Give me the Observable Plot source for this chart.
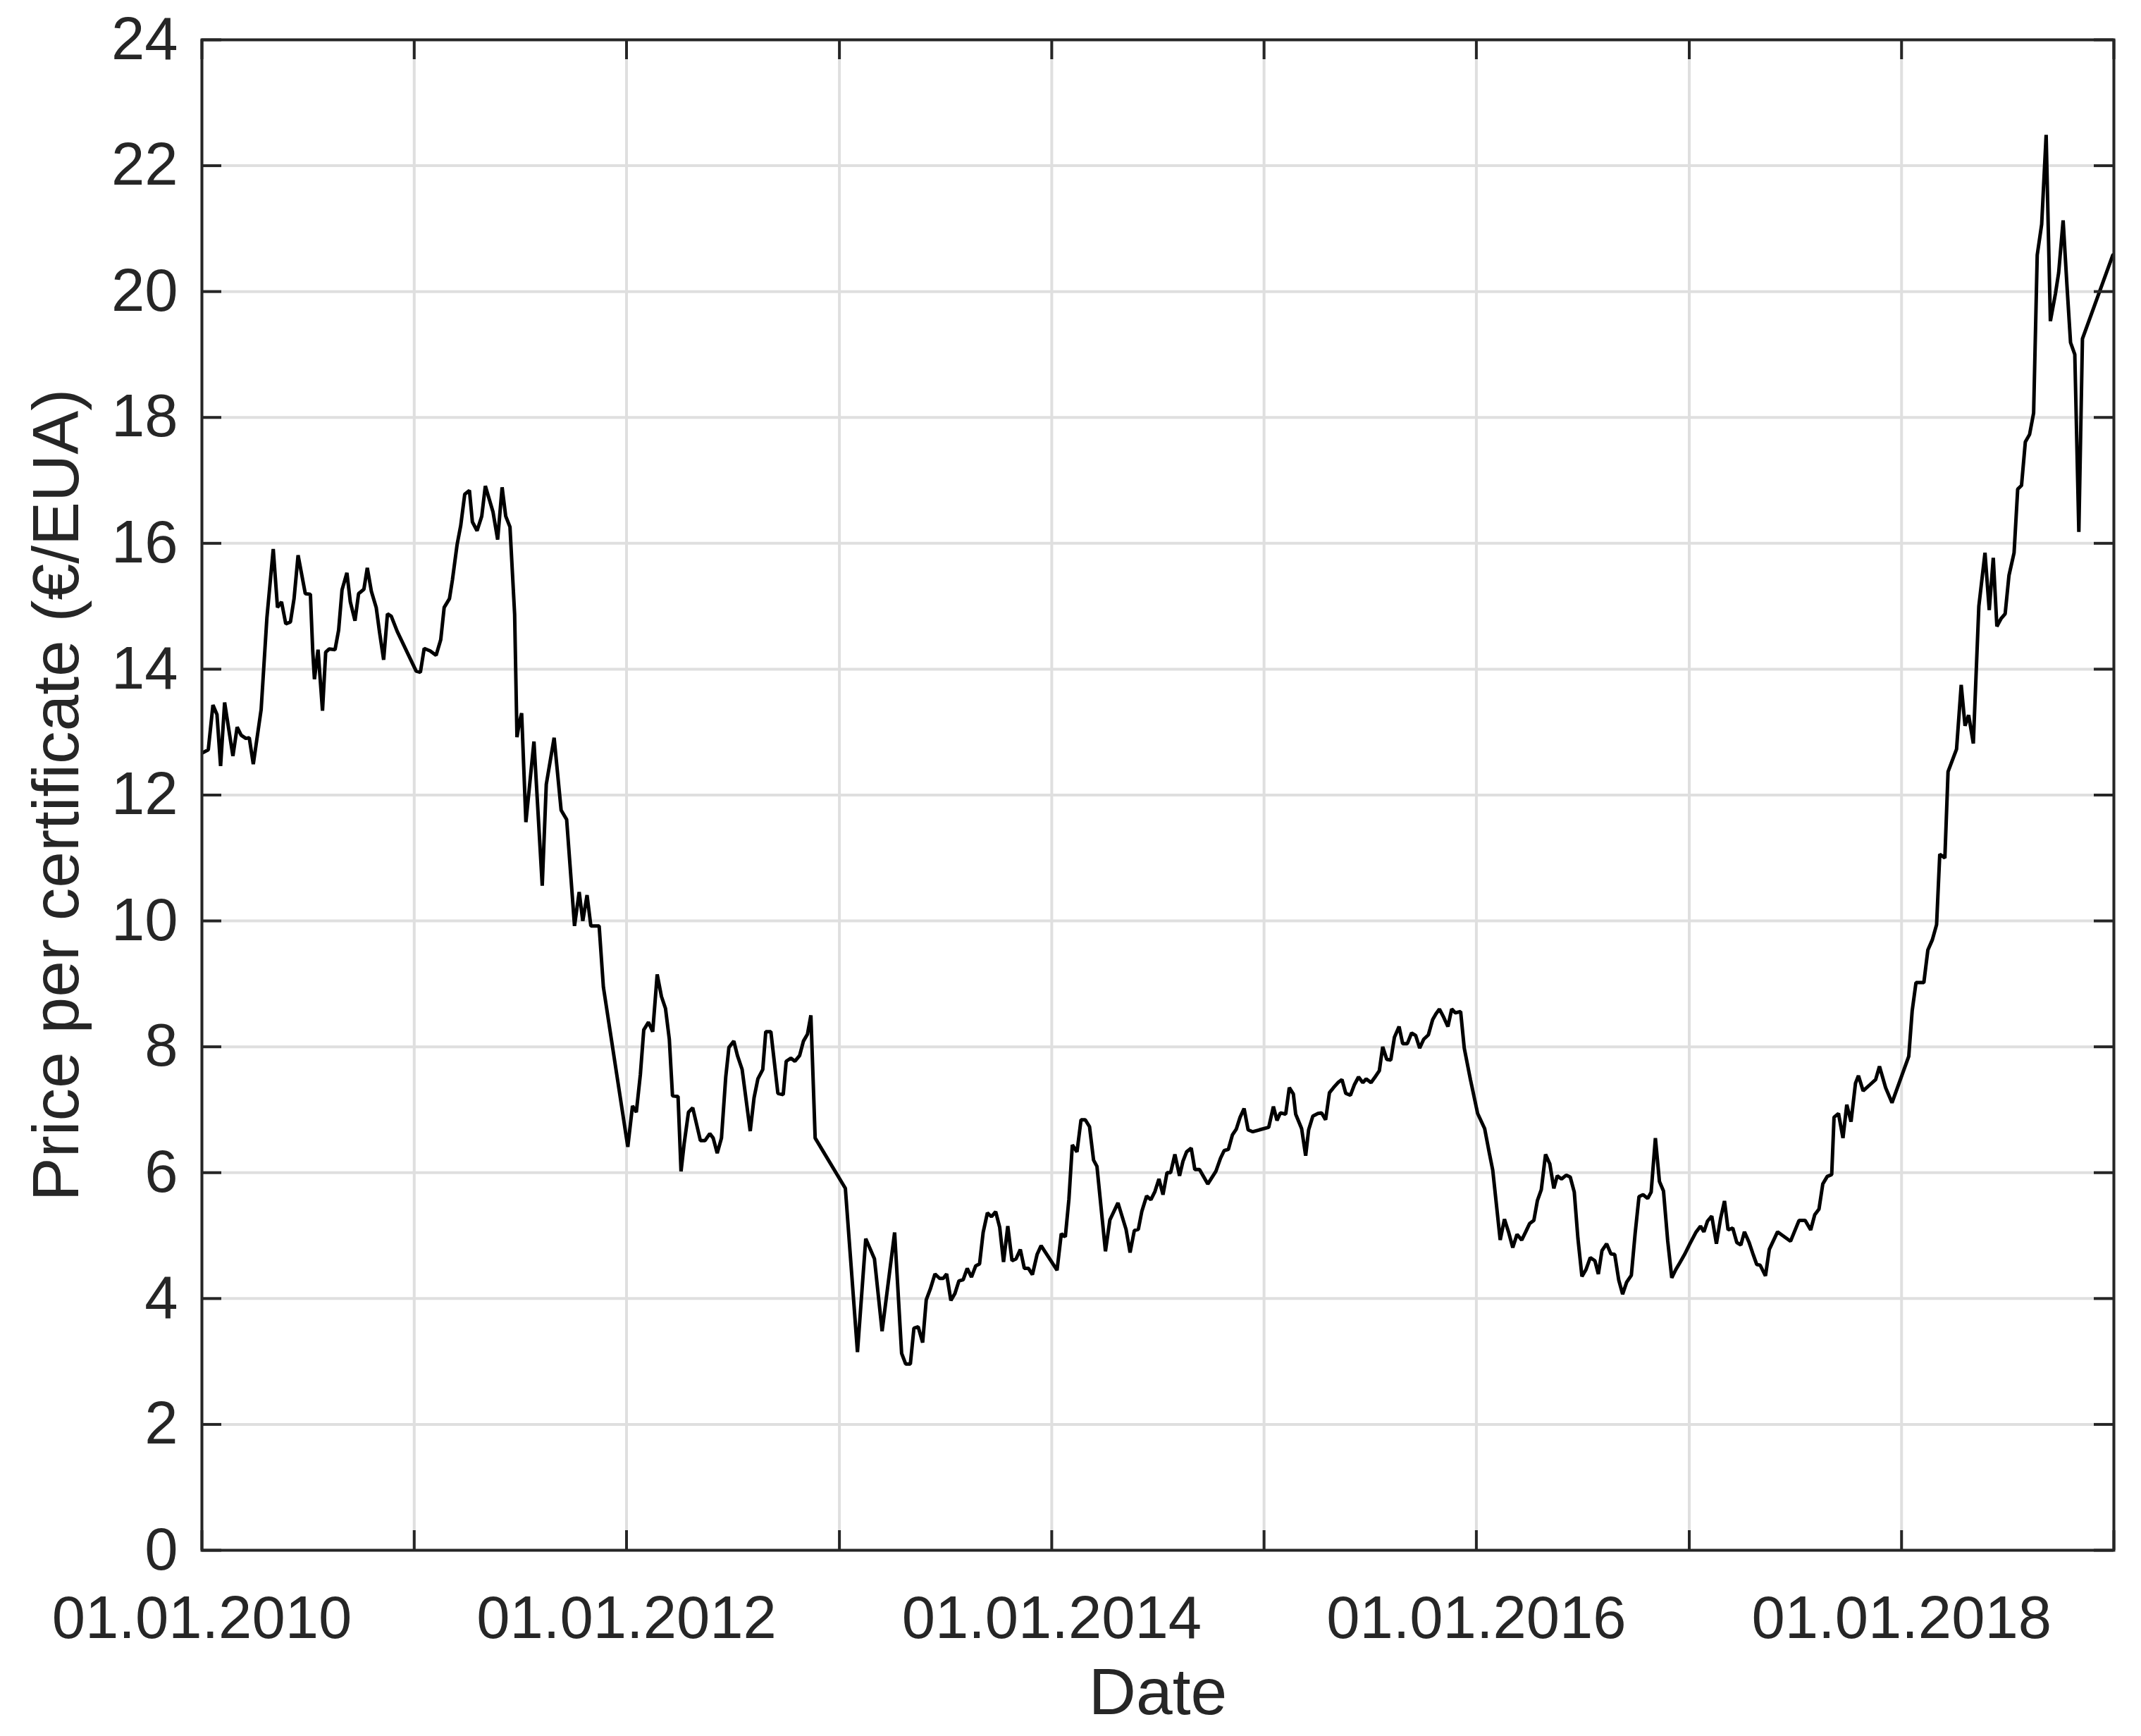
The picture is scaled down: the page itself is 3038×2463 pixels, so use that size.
<!DOCTYPE html>
<html>
<head>
<meta charset="utf-8">
<script src="https://cdn.jsdelivr.net/npm/d3@7"></script>
<script src="https://cdn.jsdelivr.net/npm/@observablehq/plot@0.6"></script>
<style>
  html, body { margin: 0; padding: 0; background: #ffffff; }
</style>
</head>
<body>
<div id="chart"></div>
<script>
const years = [
  2010.003, 2010.030, 2010.052, 2010.071, 2010.088, 2010.107, 2010.146, 2010.166, 2010.185, 2010.207,
  2010.223, 2010.242, 2010.279, 2010.292, 2010.306, 2010.336, 2010.356, 2010.375, 2010.395, 2010.417,
  2010.434, 2010.453, 2010.487, 2010.511, 2010.522, 2010.530, 2010.547, 2010.568, 2010.583, 2010.599,
  2010.627, 2010.644, 2010.660, 2010.683, 2010.699, 2010.721, 2010.738, 2010.763, 2010.779, 2010.798,
  2010.821, 2010.837, 2010.856, 2010.874, 2010.892, 2010.920,
  2011.009, 2011.029, 2011.047, 2011.075, 2011.103, 2011.125, 2011.141, 2011.166, 2011.180, 2011.202,
  2011.219, 2011.238, 2011.260, 2011.274, 2011.296, 2011.318, 2011.335, 2011.371, 2011.393, 2011.414,
  2011.431, 2011.451, 2011.473, 2011.484, 2011.495, 2011.506, 2011.526, 2011.564, 2011.603, 2011.622,
  2011.659, 2011.692, 2011.718, 2011.755, 2011.777, 2011.794, 2011.814, 2011.832, 2011.871, 2011.891,
  2012.006, 2012.028, 2012.046, 2012.065, 2012.081, 2012.103, 2012.123, 2012.144, 2012.164, 2012.183,
  2012.201, 2012.216, 2012.242, 2012.256, 2012.271, 2012.291, 2012.311, 2012.347, 2012.369, 2012.391,
  2012.407, 2012.426, 2012.446, 2012.466, 2012.481, 2012.504, 2012.521, 2012.543, 2012.581, 2012.599,
  2012.617, 2012.640, 2012.654, 2012.678, 2012.711, 2012.736, 2012.750, 2012.772, 2012.791, 2012.813,
  2012.831, 2012.850, 2012.866, 2012.886,
  2013.028, 2013.085, 2013.124, 2013.146, 2013.165, 2013.201, 2013.260, 2013.293, 2013.312, 2013.334,
  2013.351, 2013.371, 2013.392, 2013.409, 2013.428, 2013.450, 2013.472, 2013.489, 2013.505, 2013.525,
  2013.544, 2013.563, 2013.583, 2013.602, 2013.622, 2013.642, 2013.660, 2013.677, 2013.697, 2013.716,
  2013.736, 2013.755, 2013.773, 2013.793, 2013.813, 2013.832, 2013.852, 2013.871, 2013.890, 2013.909,
  2013.931, 2013.950,
  2014.025, 2014.045, 2014.064, 2014.081, 2014.097, 2014.119, 2014.138, 2014.158, 2014.178, 2014.197,
  2014.213, 2014.253, 2014.274, 2014.312, 2014.350, 2014.369, 2014.389, 2014.408, 2014.424, 2014.447,
  2014.467, 2014.486, 2014.505, 2014.524, 2014.543, 2014.560, 2014.580, 2014.602, 2014.618, 2014.635,
  2014.657, 2014.674, 2014.696, 2014.735, 2014.773, 2014.795, 2014.812, 2014.832, 2014.851, 2014.869,
  2014.887, 2014.906, 2014.925, 2014.947, 2014.978,
  2015.022, 2015.044, 2015.061, 2015.077, 2015.102, 2015.119, 2015.138, 2015.149, 2015.177, 2015.196,
  2015.210, 2015.230, 2015.254, 2015.271, 2015.290, 2015.308, 2015.327, 2015.348, 2015.367, 2015.385,
  2015.407, 2015.426, 2015.445, 2015.465, 2015.481, 2015.504, 2015.523, 2015.543, 2015.559, 2015.578,
  2015.597, 2015.614, 2015.636, 2015.653, 2015.675, 2015.695, 2015.714, 2015.733, 2015.752, 2015.774,
  2015.794, 2015.809, 2015.826, 2015.846, 2015.866, 2015.884, 2015.901, 2015.926, 2015.943, 2015.972,
  2016.006, 2016.039, 2016.061, 2016.077, 2016.112, 2016.132, 2016.151, 2016.171, 2016.191, 2016.213,
  2016.232, 2016.250, 2016.270, 2016.287, 2016.305, 2016.325, 2016.345, 2016.364, 2016.380, 2016.400,
  2016.422, 2016.441, 2016.460, 2016.477, 2016.496, 2016.515, 2016.535, 2016.557, 2016.573, 2016.590,
  2016.612, 2016.632, 2016.650, 2016.669, 2016.687, 2016.706, 2016.728, 2016.746, 2016.764, 2016.783,
  2016.805, 2016.821, 2016.841, 2016.860, 2016.879, 2016.899, 2016.918, 2016.937, 2016.956, 2016.978,
  2017.003, 2017.031, 2017.053, 2017.069, 2017.086, 2017.106, 2017.128, 2017.147, 2017.166, 2017.183,
  2017.205, 2017.224, 2017.243, 2017.260, 2017.282, 2017.299, 2017.318, 2017.334, 2017.359, 2017.377,
  2017.416, 2017.477, 2017.517, 2017.546, 2017.572, 2017.591, 2017.611, 2017.629, 2017.650, 2017.671,
  2017.682, 2017.703, 2017.724, 2017.742, 2017.762, 2017.783, 2017.797, 2017.819, 2017.852, 2017.878,
  2017.896, 2017.925, 2017.955,
  2018.034, 2018.050, 2018.068, 2018.105, 2018.124, 2018.145, 2018.165, 2018.180, 2018.204, 2018.219,
  2018.259, 2018.281, 2018.299, 2018.316, 2018.338, 2018.364, 2018.393, 2018.413, 2018.432, 2018.449,
  2018.468, 2018.488, 2018.506, 2018.530, 2018.547, 2018.565, 2018.583, 2018.603, 2018.622, 2018.639,
  2018.660, 2018.681, 2018.701, 2018.725, 2018.740, 2018.761, 2018.779, 2018.796, 2018.816, 2018.835,
  2018.852, 2018.995
];

// Price per certificate in €/EUA
const prices = [
  12.67, 12.72, 13.43, 13.28, 12.46, 13.47, 12.62, 13.08, 12.95, 12.90,
  12.91, 12.49, 13.36, 14.06, 14.81, 15.91, 14.98, 15.07, 14.72, 14.75,
  15.12, 15.81, 15.20, 15.19, 14.29, 13.84, 14.31, 13.34, 14.27, 14.32,
  14.31, 14.62, 15.26, 15.53, 15.07, 14.77, 15.20, 15.27, 15.61, 15.24,
  14.98, 14.58, 14.15, 14.88, 14.84, 14.60,
  13.97, 13.95, 14.33, 14.29, 14.22, 14.47, 14.98, 15.12, 15.42, 15.98,
  16.28, 16.78, 16.84, 16.34, 16.20, 16.43, 16.91, 16.50, 16.06, 16.89,
  16.43, 16.26, 14.87, 12.92, 13.15, 13.30, 11.57, 12.85, 10.56, 12.17,
  12.91, 11.76, 11.61, 9.92, 10.46, 10.00, 10.41, 9.92, 9.92, 8.95,
  6.41, 7.06, 6.96, 7.56, 8.27, 8.39, 8.24, 9.15, 8.80, 8.61,
  8.12, 7.22, 7.21, 6.02, 6.47, 6.96, 7.03, 6.51, 6.51, 6.62,
  6.55, 6.31, 6.55, 7.52, 7.99, 8.09, 7.86, 7.64, 6.66, 7.19,
  7.49, 7.64, 8.24, 8.24, 7.26, 7.24, 7.77, 7.82, 7.77, 7.86,
  8.09, 8.20, 8.50, 6.55,
  5.75, 3.15, 4.95, 4.78, 4.63, 3.48, 5.05, 3.13, 2.96, 2.96,
  3.53, 3.55, 3.30, 3.98, 4.15, 4.39, 4.32, 4.32, 4.39, 3.97,
  4.08, 4.28, 4.30, 4.48, 4.34, 4.52, 4.55, 5.05, 5.36, 5.30,
  5.38, 5.13, 4.58, 5.15, 4.60, 4.63, 4.78, 4.48, 4.48, 4.38,
  4.70, 4.84,
  4.45, 5.03, 4.98, 5.58, 6.44, 6.33, 6.84, 6.84, 6.73, 6.20,
  6.10, 4.75, 5.25, 5.52, 5.10, 4.73, 5.08, 5.10, 5.38, 5.63,
  5.57, 5.70, 5.90, 5.65, 6.00, 6.00, 6.29, 5.95, 6.18, 6.33,
  6.39, 6.05, 6.05, 5.82, 6.02, 6.23, 6.35, 6.37, 6.60, 6.69,
  6.88, 7.02, 6.68, 6.65, 6.68,
  6.72, 7.05, 6.83, 6.95, 6.93, 7.35, 7.25, 6.93, 6.70, 6.27,
  6.68, 6.90, 6.94, 6.95, 6.84, 7.27, 7.35, 7.43, 7.48, 7.26,
  7.23, 7.40, 7.52, 7.43, 7.49, 7.43, 7.52, 7.62, 8.00, 7.80,
  7.79, 8.15, 8.32, 8.05, 8.05, 8.22, 8.18, 7.98, 8.12, 8.19,
  8.43, 8.52, 8.60, 8.47, 8.32, 8.60, 8.54, 8.56, 7.98, 7.48,
  6.94, 6.70, 6.31, 6.04, 4.93, 5.26, 5.06, 4.81, 5.02, 4.93,
  5.06, 5.19, 5.24, 5.56, 5.73, 6.29, 6.14, 5.75, 5.95, 5.90,
  5.96, 5.93, 5.69, 4.96, 4.35, 4.46, 4.65, 4.60, 4.39, 4.76,
  4.87, 4.71, 4.70, 4.29, 4.07, 4.26, 4.37, 5.04, 5.62, 5.65,
  5.59, 5.69, 6.55, 5.86, 5.71, 4.91, 4.33, 4.46, 4.57, 4.70,
  4.87, 5.05, 5.15, 5.06, 5.23, 5.31, 4.87, 5.26, 5.55, 5.09,
  5.12, 4.89, 4.85, 5.06, 4.89, 4.72, 4.54, 4.53, 4.36, 4.78,
  5.06, 4.91, 5.24, 5.24, 5.09, 5.33, 5.42, 5.82, 5.94, 5.97,
  6.88, 6.94, 6.55, 7.08, 6.81, 7.42, 7.54, 7.30, 7.40, 7.48,
  7.69, 7.35, 7.11,
  7.85, 8.57, 9.02, 9.02, 9.54, 9.70, 9.94, 11.06, 11.00, 12.37,
  12.73, 13.75, 13.10, 13.27, 12.82, 15.00, 15.85, 14.94, 15.77, 14.68,
  14.80, 14.88, 15.49, 15.85, 16.86, 16.92, 17.61, 17.73, 18.07, 20.58,
  21.07, 22.49, 19.53, 19.97, 20.30, 21.13, 20.10, 19.19, 19.00, 16.18,
  19.25, 20.58
];

// Axis ticks
const gridYears = [2010, 2011, 2012, 2013, 2014, 2015, 2016, 2017, 2018, 2019];
const labelYears = [2010, 2012, 2014, 2016, 2018];
const yTicks = [0, 2, 4, 6, 8, 10, 12, 14, 16, 18, 20, 22, 24];
const xDomainYears = [2010, 2019];
const yDomain = [0, 24];
const xLabel = "Date";
const yLabel = "Price per certificate (€/EUA)";

function toDate(y) {
  const yr = Math.floor(y);
  const s = Date.UTC(yr, 0, 1), e = Date.UTC(yr + 1, 0, 1);
  return new Date(s + (y - yr) * (e - s));
}

const data = years.map((y, i) => ({date: toDate(y), price: prices[i]}));
const gridDates = gridYears.map(toDate);
const labelDates = labelYears.map(toDate);

const W = 3038, H = 2463;
const mL = 286, mR = 39, mT = 56, mB = 264;
const plotW = W - mL - mR, plotH = H - mT - mB;
const tickLen = 28;
const ink = "#262626";
const gridColor = "#dfdfdf";

const chart = Plot.plot({
  width: W,
  height: H,
  marginLeft: mL,
  marginRight: mR,
  marginTop: mT,
  marginBottom: mB,
  style: {
    fontFamily: "Arial, 'Liberation Sans', Helvetica, sans-serif",
    color: ink,
    background: "#ffffff"
  },
  x: {type: "utc", domain: xDomainYears.map(toDate)},
  y: {domain: yDomain},
  marks: [
    Plot.ruleX(gridDates, {stroke: gridColor, strokeWidth: 4}),
    Plot.ruleY(yTicks, {stroke: gridColor, strokeWidth: 4}),
    Plot.lineY(data, {x: "date", y: "price", stroke: "#000000", strokeWidth: 5, clip: true, strokeLinejoin: "miter"}),
    Plot.ruleX(gridDates, {stroke: ink, strokeWidth: 4, insetTop: plotH - tickLen}),
    Plot.ruleX(gridDates, {stroke: ink, strokeWidth: 4, insetBottom: plotH - tickLen}),
    Plot.ruleY(yTicks, {stroke: ink, strokeWidth: 4, insetRight: plotW - tickLen}),
    Plot.ruleY(yTicks, {stroke: ink, strokeWidth: 4, insetLeft: plotW - tickLen}),
    Plot.frame({stroke: ink, strokeWidth: 4}),
    Plot.axisX({ticks: labelDates, tickSize: 0, tickPadding: 64, tickFormat: d3.utcFormat("%d.%m.%Y"), fontSize: 85, label: null}),
    Plot.axisY({ticks: yTicks, tickSize: 0, tickPadding: 34, fontSize: 85, label: null}),
    Plot.text([xLabel], {frameAnchor: "bottom", lineAnchor: "middle", textAnchor: "middle", dy: 203, fontSize: 93, fill: ink}),
    Plot.text([yLabel], {frameAnchor: "left", lineAnchor: "middle", textAnchor: "middle", dx: -205, rotate: -90, fontSize: 93, fill: ink})
  ]
});

document.getElementById("chart").appendChild(chart);
</script>
</body>
</html>
